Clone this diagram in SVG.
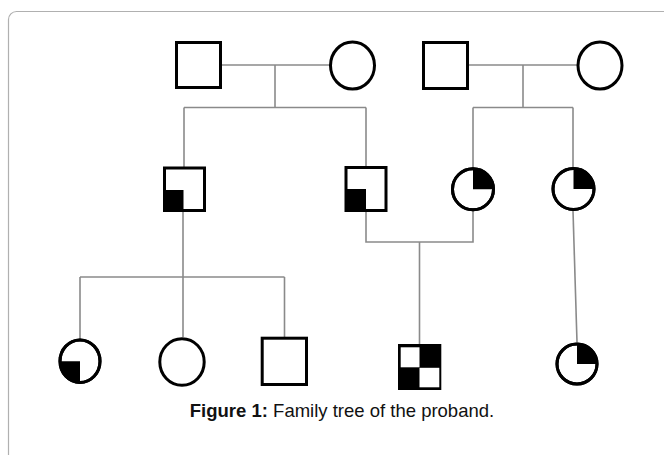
<svg xmlns="http://www.w3.org/2000/svg" width="664" height="455" viewBox="0 0 664 455">
<style>
.sym{fill:#fff;stroke:#000;stroke-width:3}
.fill{fill:#000;stroke:none}
.ln{fill:none;stroke:#8a8a8a;stroke-width:1.6}
.cap{font-family:"Liberation Sans",Arial,sans-serif;font-size:18.5px;fill:#111}
</style>
<rect x="8.5" y="11.5" width="700" height="500" rx="8" ry="8" fill="#fff" stroke="#b0b0b0" stroke-width="1.2"/>
<g id="connectors">
<path class="ln" d="M222,65 H330 M275,65 V107.5 M184,107.5 H366 M184,107.5 V167 M366,107.5 V167"/>
<path class="ln" d="M469,65 H577 M523,65 V107.5 M473,107.5 H573 M473,107.5 V168 M573,107.5 V168"/>
<path class="ln" d="M183,212 V337 M80,277 H284.5 M80,277 V339 M284.5,277 V337"/>
<path class="ln" d="M366,212 V242 H473 V211 M419.5,242 V344"/>
<path class="ln" d="M573,211 L577,342"/>
</g>
<g id="gf1"><rect class="sym" x="176.5" y="42.5" width="44" height="45"/></g>
<g id="gm1"><ellipse class="sym" cx="352.5" cy="65.5" rx="22" ry="23.5"/></g>
<g id="gf2"><rect class="sym" x="423.5" y="42.5" width="44" height="46"/></g>
<g id="gm2"><ellipse class="sym" cx="600" cy="65.5" rx="22" ry="23.5"/></g>
<g id="uncle">
<rect class="sym" x="164.5" y="168" width="40" height="42.5"/>
<rect class="fill" x="164.5" y="190" width="19" height="20.5"/>
</g>
<g id="father">
<rect class="sym" x="346" y="167.5" width="40" height="43"/>
<rect class="fill" x="346" y="189" width="20" height="21.5"/>
</g>
<g id="mother">
<circle class="sym" cx="473" cy="189.3" r="20.5"/>
<path class="fill" d="M473,189.3 V168.8 A20.5,20.5 0 0 1 493.5,189.3 Z"/>
<circle cx="473" cy="189.3" r="20.5" fill="none" stroke="#000" stroke-width="3"/>
</g>
<g id="aunt">
<circle class="sym" cx="573.5" cy="189" r="20.5"/>
<path class="fill" d="M573.5,189 V168.5 A20.5,20.5 0 0 1 594,189 Z"/>
<circle cx="573.5" cy="189" r="20.5" fill="none" stroke="#000" stroke-width="3"/>
</g>
<g id="cousin1">
<ellipse class="sym" cx="80" cy="361.2" rx="20" ry="21.3"/>
<path class="fill" d="M80,361.2 H60 A20,21.3 0 0 0 80,382.5 Z"/>
<ellipse cx="80" cy="361.2" rx="20" ry="21.3" fill="none" stroke="#000" stroke-width="3"/>
</g>
<g id="cousin2"><ellipse class="sym" cx="182" cy="362" rx="22.2" ry="23.3"/></g>
<g id="cousin3"><rect class="sym" x="262.2" y="338.2" width="44.3" height="46.3"/></g>
<g id="proband">
<rect x="398" y="344" width="43.3" height="46" fill="#000"/>
<rect x="400.7" y="347.3" width="18.8" height="20" fill="#fff"/>
<rect x="419.5" y="367.8" width="19.8" height="19.5" fill="#fff"/>
</g>
<g id="cousin4">
<circle class="sym" cx="577" cy="364" r="20"/>
<path class="fill" d="M577,364 V344 A20,20 0 0 1 597,364 Z"/>
<circle cx="577" cy="364" r="20" fill="none" stroke="#000" stroke-width="3"/>
</g>
<text class="cap" x="342" y="417" text-anchor="middle"><tspan font-weight="bold">Figure 1:</tspan> Family tree of the proband.</text>
</svg>
